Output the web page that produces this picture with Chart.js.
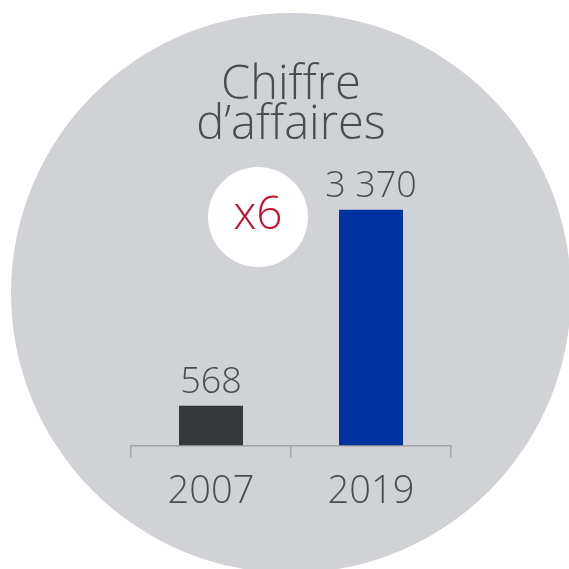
<!DOCTYPE html>
<html>
<head>
<meta charset="utf-8">
<script src="https://cdn.jsdelivr.net/npm/chart.js@4.4.1/dist/chart.umd.min.js"></script>
<style>
  html, body { margin: 0; padding: 0; background: #ffffff; }
  #wrap { width: 569px; height: 569px; }
</style>
</head>
<body>
<div id="wrap"><canvas id="caChart"></canvas></div>
<script>
// Chiffre d'affaires, 2007 vs 2019
const years = ["2007", "2019"];
const revenue = [568, 3370];
const valueLabels = ["568", "3 370"];
const barColors = ["#37383c", "#0033a0"];
const titleLines = ["Chiffre", "d\u2019affaires"];
const multiplierText = "x6";

const textGrey = "#4b4c51";
const fontFamily = "'Open Sans', 'DejaVu Sans', sans-serif";

// grey disc behind everything + white badge with the multiplier
const backdrop = {
    id: "backdrop",
    beforeDraw(chart) {
        const ctx = chart.ctx;
        ctx.save();
        ctx.fillStyle = "#d1d2d6";
        ctx.beginPath();
        ctx.arc(291, 293, 280, 0, Math.PI * 2);
        ctx.fill();

        ctx.fillStyle = "#ffffff";
        ctx.beginPath();
        ctx.arc(258, 217, 50, 0, Math.PI * 2);
        ctx.fill();

        ctx.fillStyle = "#c8102e";
        ctx.font = "300 46px " + fontFamily;
        ctx.textAlign = "center";
        ctx.textBaseline = "middle";
        ctx.fillText(multiplierText, 258, 216);
        ctx.restore();
    }
};

// value labels above the bars
const barValues = {
    id: "barValues",
    afterDatasetsDraw(chart) {
        const ctx = chart.ctx;
        const meta = chart.getDatasetMeta(0);
        ctx.save();
        ctx.fillStyle = textGrey;
        ctx.font = "300 36px " + fontFamily;
        ctx.textAlign = "center";
        ctx.textBaseline = "alphabetic";
        meta.data.forEach((bar, i) => {
            ctx.fillText(valueLabels[i], bar.x, bar.y - 13);
        });
        ctx.restore();
    }
};

new Chart(document.getElementById("caChart"), {
    type: "bar",
    data: {
        labels: years,
        datasets: [{
            data: revenue,
            backgroundColor: barColors,
            borderWidth: 0,
            categoryPercentage: 1,
            barPercentage: 0.4
        }]
    },
    options: {
        responsive: true,
        maintainAspectRatio: false,
        animation: false,
        layout: { padding: { left: 131, right: 118, top: 0, bottom: 42 } },
        plugins: {
            legend: { display: false },
            tooltip: { enabled: false },
            title: {
                display: true,
                text: titleLines,
                color: textGrey,
                font: { family: fontFamily, size: 47, weight: 300, lineHeight: 0.86 },
                padding: { top: 65, bottom: 6 }
            }
        },
        scales: {
            x: {
                grid: {
                    display: true,
                    drawOnChartArea: false,
                    drawTicks: true,
                    tickLength: 12,
                    color: "#a0a1a6",
                    lineWidth: 1.5
                },
                border: { display: true, color: "#a0a1a6", width: 1.5 },
                ticks: {
                    color: textGrey,
                    padding: 12,
                    font: { family: fontFamily, size: 38, weight: 300, lineHeight: 1.2 }
                }
            },
            y: {
                display: false,
                min: 0,
                max: 4200
            }
        }
    },
    plugins: [backdrop, barValues]
});
</script>
</body>
</html>
